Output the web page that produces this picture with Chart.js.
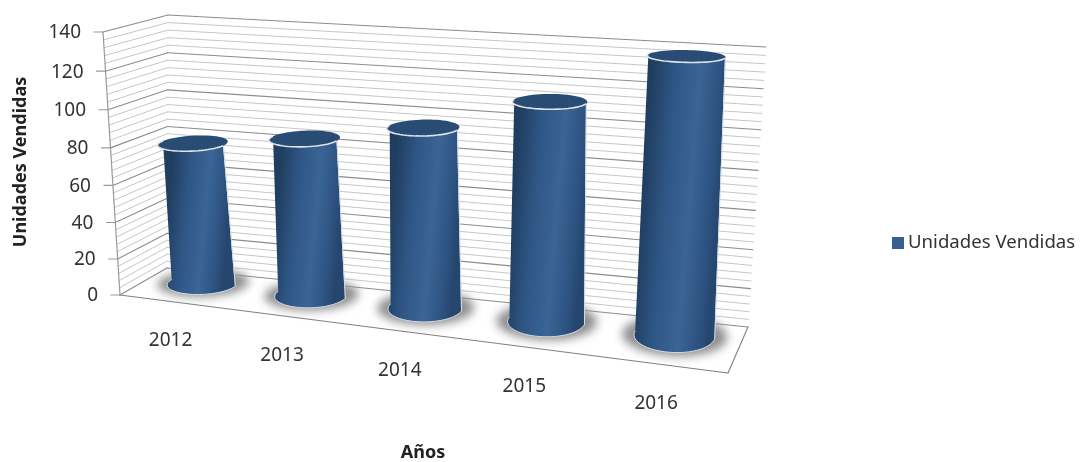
<!DOCTYPE html>
<html lang="es">
<head>
<meta charset="utf-8">
<title>Unidades Vendidas</title>
<script src="https://cdn.jsdelivr.net/npm/chart.js@4/dist/chart.umd.js"></script>
<style>
    html, body { margin: 0; padding: 0; background: #ffffff; }
    canvas { display: block; }
</style>
</head>
<body>
<canvas id="ventasChart" width="1082" height="462"></canvas>
<script>
// Datos del gráfico
const years = ['2012', '2013', '2014', '2015', '2016'];
const unitsSold = [79, 86, 96, 113, 138];
const yMax = 140;
const yStep = 20;
const minorPerMajor = 5;

const seriesName = 'Unidades Vendidas';
const yTitle = 'Unidades Vendidas';
const xTitle = 'Años';

const fontFamily = '"Noto Sans", sans-serif';
const textColor = '#333333';
const seriesColor = '#366092';

// Esquinas de la caja en perspectiva: delante izq, delante der, atrás der, atrás izq
const floorQuad = [[120, 295], [728, 373], [748, 327], [167, 268]];
const ceilQuad = [[103, 32], [748, 64], [766, 47], [168, 15]];

function lerp(a, b, t) {
    return [a[0] + (b[0] - a[0]) * t, a[1] + (b[1] - a[1]) * t];
}

// Acortamiento de la perspectiva
function warp(t, r) {
    return t / (t + (1 - t) * r);
}

function quadPoint(q, s, w) {
    return lerp(lerp(q[0], q[1], s), lerp(q[3], q[2], s), w);
}

// u: ancho, v: altura, w: profundidad (0 delante, 1 atrás)
function project(u, v, w) {
    const s = warp(u, 1.15);
    return lerp(quadPoint(floorQuad, s, w), quadPoint(ceilQuad, s, w), warp(v, 1.05));
}

function strokePath(ctx, a, b, color, width) {
    ctx.strokeStyle = color;
    ctx.lineWidth = width;
    ctx.beginPath();
    ctx.moveTo(a[0], a[1]);
    ctx.lineTo(b[0], b[1]);
    ctx.stroke();
}

function yToV(scale, value) {
    const area = scale.chart.chartArea;
    return (area.bottom - scale.getPixelForValue(value)) / (area.bottom - area.top);
}

function ring(u0, v, w0, rU, rW, from, to, n) {
    const pts = [];
    for (let i = 0; i <= n; i++) {
        const t = from + (to - from) * i / n;
        pts.push(project(u0 + rU * Math.cos(t), v, w0 + rW * Math.sin(t)));
    }
    return pts;
}

function tracePoints(ctx, pts, first) {
    pts.forEach((p, i) => {
        if (i === 0 && first) ctx.moveTo(p[0], p[1]);
        else ctx.lineTo(p[0], p[1]);
    });
}

// Controlador de barras dibujadas como cilindros
class CylinderController extends Chart.BarController {
    draw() {
        const chart = this.chart;
        const ctx = chart.ctx;
        const area = chart.chartArea;
        const bars = this.getMeta().data;
        const baseCenter = 0.66, baseDepth = 0.38;
        const topCenter = 0.5, topDepth = 0.34, topWidth = 0.92;

        ctx.save();
        // Sombras sobre el suelo
        bars.forEach(bar => {
            const u0 = (bar.x - area.left) / area.width;
            const rU = bar.width / 2 / area.width;
            ctx.save();
            ctx.filter = 'blur(5px)';
            ctx.fillStyle = '#8f8f8f';
            ctx.beginPath();
            tracePoints(ctx, ring(u0, 0, baseCenter, rU * 1.3, baseDepth * 1.2, 0, Math.PI * 2, 48), true);
            ctx.closePath();
            ctx.fill();
            ctx.restore();
        });

        bars.forEach(bar => {
            const u0 = (bar.x - area.left) / area.width;
            const rU = bar.width / 2 / area.width;
            const vTop = (area.bottom - bar.y) / area.height;
            const vBase = (area.bottom - bar.base) / area.height;

            const topBack = ring(u0, vTop, topCenter, rU * topWidth, topDepth, 0, Math.PI, 32);
            const topFront = ring(u0, vTop, topCenter, rU * topWidth, topDepth, Math.PI, Math.PI * 2, 32);
            const baseFront = ring(u0, vBase, baseCenter, rU, baseDepth, Math.PI, Math.PI * 2, 32);

            const tl = topFront[0], tr = topFront[32], bl = baseFront[0], br = baseFront[32];
            const midL = lerp(tl, bl, 0.5);
            const midR = lerp(tr, br, 0.5);
            const shade = ctx.createLinearGradient(midL[0], midL[1], midR[0], midR[1]);
            shade.addColorStop(0, '#1f3e60');
            shade.addColorStop(0.3, '#2f5685');
            shade.addColorStop(0.62, '#3a6596');
            shade.addColorStop(0.88, '#2d5280');
            shade.addColorStop(1, '#25476f');

            // Cuerpo
            ctx.fillStyle = shade;
            ctx.beginPath();
            tracePoints(ctx, baseFront, true);
            tracePoints(ctx, [tr, tl], false);
            ctx.closePath();
            ctx.fill();

            // Bordes claros
            ctx.strokeStyle = '#d5dbe3';
            ctx.lineWidth = 1;
            ctx.beginPath();
            ctx.moveTo(tr[0] + 0.5, tr[1]);
            ctx.lineTo(br[0] + 0.5, br[1]);
            ctx.stroke();
            ctx.beginPath();
            tracePoints(ctx, baseFront, true);
            ctx.stroke();

            // Tapa superior
            ctx.fillStyle = '#294c75';
            ctx.beginPath();
            tracePoints(ctx, topBack, true);
            tracePoints(ctx, topFront, false);
            ctx.closePath();
            ctx.fill();
            ctx.strokeStyle = '#dfe4ea';
            ctx.lineWidth = 1.6;
            ctx.beginPath();
            tracePoints(ctx, topFront, true);
            ctx.stroke();
        });
        ctx.restore();
    }
}
CylinderController.id = 'cylinder';
CylinderController.defaults = Chart.BarController.defaults;
CylinderController.overrides = Chart.BarController.overrides;
Chart.register(CylinderController);

// Paredes, suelo, ejes, títulos y leyenda
const boxPlugin = {
    id: 'box3d',
    beforeDatasetsDraw(chart) {
        const ctx = chart.ctx;
        const yScale = chart.scales.y;
        const xScale = chart.scales.x;
        const area = chart.chartArea;

        ctx.save();
        ctx.lineCap = 'round';

        // Líneas de división menores y principales
        const majors = yScale.ticks.map(t => t.value);
        const minorStep = yStep / minorPerMajor;
        for (let val = 0; val <= yMax; val += minorStep) {
            const v = yToV(yScale, val);
            const isMajor = majors.includes(val);
            const color = isMajor ? '#8c8c8c' : '#c6c6c6';
            const width = isMajor ? 1.1 : 1;
            strokePath(ctx, project(0, v, 1), project(1, v, 1), color, width);
            strokePath(ctx, project(0, v, 0), project(0, v, 1), color, width);
        }

        // Borde del suelo y eje vertical
        strokePath(ctx, project(0, 0, 0), project(1, 0, 0), '#808080', 1.1);
        strokePath(ctx, project(1, 0, 0), project(1, 0, 1), '#808080', 1.1);
        strokePath(ctx, project(0, 0, 0), project(0, 1, 0), '#9a9a9a', 1.2);

        // Marcas y etiquetas del eje Y
        ctx.font = '19px ' + fontFamily;
        ctx.fillStyle = textColor;
        ctx.textAlign = 'right';
        ctx.textBaseline = 'middle';
        yScale.ticks.forEach(tick => {
            const p = project(0, yToV(yScale, tick.value), 0);
            strokePath(ctx, [p[0] - 9, p[1]], p, '#9a9a9a', 1.1);
            ctx.fillText(tick.label, p[0] - 22, p[1] + 1);
        });

        // Etiquetas del eje X
        ctx.textAlign = 'center';
        xScale.ticks.forEach((tick, i) => {
            const u = (xScale.getPixelForTick(i) - area.left) / area.width;
            const p = project(u, 0, 0);
            ctx.fillText(tick.label, p[0] - 3, p[1] + 39);
        });

        // Leyenda
        ctx.textAlign = 'left';
        ctx.fillStyle = seriesColor;
        ctx.fillRect(892, 237, 12, 12);
        ctx.fillStyle = textColor;
        ctx.font = '18.6px ' + fontFamily;
        ctx.fillText(chart.data.datasets[0].label, 908, 243);

        // Títulos de los ejes
        ctx.textAlign = 'center';
        ctx.font = 'bold 18px ' + fontFamily;
        ctx.fillStyle = '#222222';
        ctx.fillText(xTitle, 423, 453);
        ctx.translate(21, 162);
        ctx.rotate(-Math.PI / 2);
        ctx.fillText(yTitle, 0, 0);
        ctx.restore();
    }
};

new Chart(document.getElementById('ventasChart'), {
    type: 'cylinder',
    data: {
        labels: years,
        datasets: [{
            label: seriesName,
            data: unitsSold,
            backgroundColor: seriesColor,
            categoryPercentage: 1,
            barPercentage: 0.6
        }]
    },
    plugins: [boxPlugin],
    options: {
        responsive: false,
        animation: false,
        scales: {
            x: { type: 'category', display: false },
            y: { type: 'linear', display: false, min: 0, max: yMax, ticks: { stepSize: yStep } }
        },
        plugins: {
            title: { display: false },
            tooltip: { enabled: false },
            legend: { display: false }
        }
    }
});
</script>
</body>
</html>
